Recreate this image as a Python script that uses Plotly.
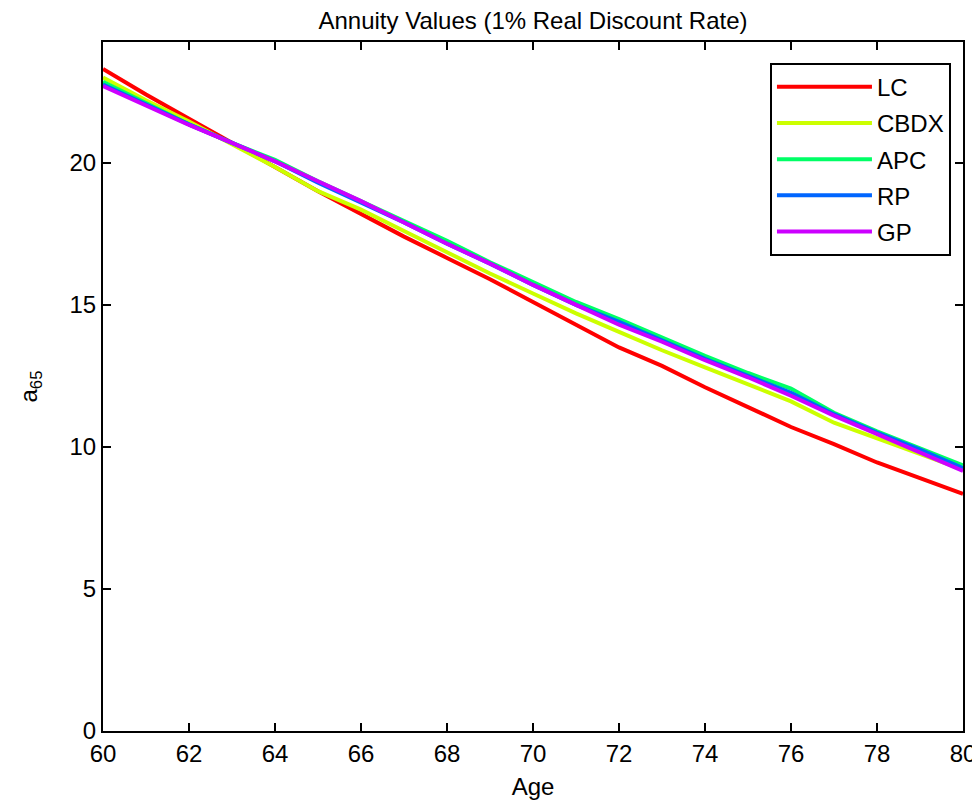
import plotly.graph_objects as go

ages = list(range(60, 81))
lc = [23.3, 22.4, 21.55, 20.7, 19.85, 19.0, 18.2, 17.4, 16.65, 15.9, 15.1, 14.3, 13.5, 12.85, 12.1, 11.4, 10.7, 10.1, 9.45, 8.9, 8.35]
cbdx = [23.0, 22.2, 21.45, 20.65, 19.85, 19.0, 18.35, 17.6, 16.85, 16.1, 15.4, 14.7, 14.05, 13.4, 12.8, 12.2, 11.6, 10.85, 10.3, 9.75, 9.2]
apc = [22.85, 22.1, 21.35, 20.7, 20.1, 19.35, 18.65, 17.95, 17.25, 16.5, 15.8, 15.1, 14.5, 13.85, 13.2, 12.6, 12.05, 11.2, 10.55, 9.95, 9.35]
rp = [22.75, 22.05, 21.35, 20.7, 20.05, 19.3, 18.6, 17.9, 17.15, 16.45, 15.7, 15.0, 14.4, 13.75, 13.1, 12.5, 11.9, 11.15, 10.5, 9.9, 9.25]
gp = [22.7, 22.0, 21.33, 20.7, 20.05, 19.35, 18.65, 17.9, 17.15, 16.45, 15.7, 15.0, 14.3, 13.7, 13.05, 12.45, 11.8, 11.1, 10.45, 9.8, 9.15]

names = ["LC", "CBDX", "APC", "RP", "GP"]
series = [lc, cbdx, apc, rp, gp]
colors = ["#ff0000", "#ccff00", "#00ff66", "#0066ff", "#cc00ff"]
x_ticks = list(range(60, 81, 2))
y_ticks = [0, 5, 10, 15, 20]

fig = go.Figure()
for n, s, c in zip(names, series, colors):
    fig.add_trace(go.Scatter(x=ages, y=s, mode="lines", name=n, legendgroup=n,
                             line=dict(color=c, width=4)))

font = dict(family="Liberation Sans, Arial, sans-serif", size=24, color="black")
fig.update_layout(
    width=980, height=803,
    margin=dict(l=95, r=23, t=34, b=80),
    paper_bgcolor="white", plot_bgcolor="white",
    font=font,
    title=dict(text="Annuity Values (1% Real Discount Rate)", x=0.5, xref="paper",
               y=0.984, yanchor="middle", font=font),
    showlegend=True,
    legend=dict(x=0.986, y=0.97, xanchor="right", yanchor="top",
                bordercolor="black", borderwidth=2, bgcolor="white",
                font=font, tracegroupgap=2, traceorder="grouped", itemwidth=95),
    xaxis=dict(range=[60, 80], tickvals=x_ticks, ticks="inside", ticklen=8,
               tickwidth=1.5, tickcolor="black", showline=True, linecolor="black",
               linewidth=2, mirror="ticks", showgrid=False, zeroline=False,
               title=dict(text="Age", font=font, standoff=12)),
    yaxis=dict(range=[0, 24.25], tickvals=y_ticks, ticks="inside", ticklen=8,
               tickwidth=1.5, tickcolor="black", showline=True, linecolor="black",
               linewidth=2, mirror="ticks", showgrid=False, zeroline=False,
               title=dict(text="a<sub>65</sub>", font=font, standoff=25)),
)

fig.write_html("out.html")
